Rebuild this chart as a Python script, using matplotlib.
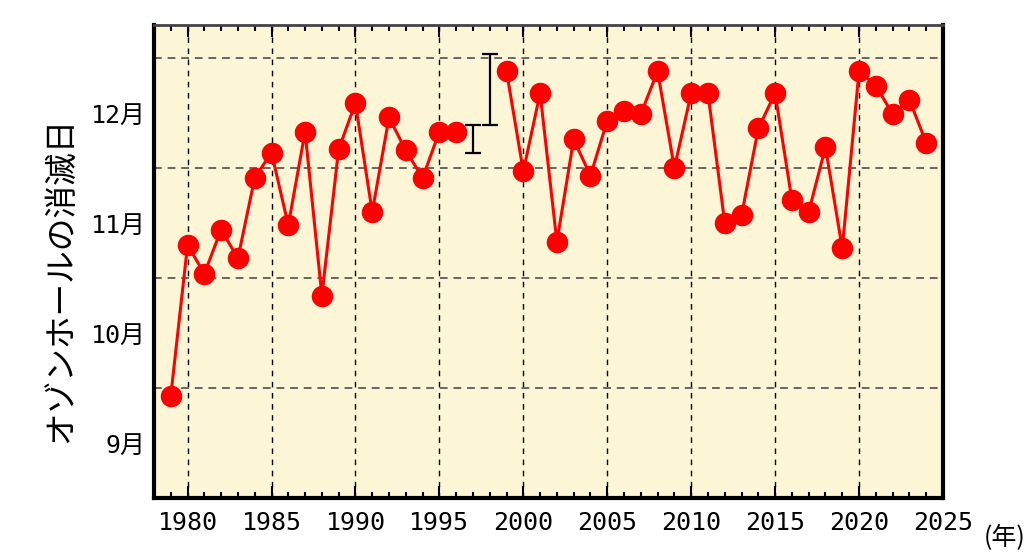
import numpy as np
import matplotlib
matplotlib.use("Agg")
import matplotlib.pyplot as plt

# day of disappearance, in month units (9.0 = 1 Sep, 10.0 = 1 Oct, ...)
years = np.arange(1979, 2025)
end_date = [
    9.93, 11.30, 11.04, 11.44, 11.18, 11.91, 12.14, 11.48, 12.33, 10.84,
    12.17, 12.59, 11.60, 12.46, 12.16, 11.91, 12.33, 12.33, np.nan, np.nan,
    12.88, 11.97, 12.68, 11.33, 12.26, 11.93, 12.43, 12.52, 12.49, 12.88,
    12.00, 12.68, 12.68, 11.50, 11.57, 12.36, 12.68, 11.71, 11.60, 12.19,
    11.27, 12.88, 12.75, 12.49, 12.62, 12.23,
]

# years without a firm date: range only
range_years = [1997, 1998]
range_low = [12.14, 12.39]
range_high = [12.39, 13.04]

month_pos = [9.5, 10.5, 11.5, 12.5]
month_labels = ["9月", "10月", "11月", "12月"]

FONT_NUM = ["DejaVu Sans Mono", "Noto Sans CJK JP"]
FONT_JP = ["Noto Sans CJK JP", "DejaVu Sans"]

fig = plt.figure(figsize=(10.28, 5.56), dpi=100)
ax = fig.add_axes([0.1498, 0.1043, 0.7675, 0.8507])
ax.set_facecolor("#fdf6d6")

ax.plot(years, end_date, "-o", color="#ff0000", lw=2.2, markersize=14.5, zorder=3)

lo = np.array(range_low)
hi = np.array(range_high)
ax.errorbar(range_years, (lo + hi) / 2, yerr=(hi - lo) / 2, fmt="none",
            ecolor="black", elinewidth=1.6, capsize=5.5, capthick=1.6, zorder=3)

ax.set_xlim(1978, 2025)
ax.set_ylim(9.0, 13.3)

ax.set_xticks(np.arange(1980, 2026, 5))
ax.set_xticks(np.arange(1978, 2026, 1), minor=True)
ax.tick_params(axis="x", which="both", direction="in", top=True, bottom=True, width=1.5)
ax.tick_params(axis="x", which="major", length=8.5, pad=9)
ax.tick_params(axis="x", which="minor", length=4.5)
for lab in ax.get_xticklabels():
    lab.set_family(FONT_NUM)
    lab.set_fontsize(18)

ax.set_yticks([10, 11, 12, 13])
ax.set_yticklabels([])
ax.set_yticks(month_pos, minor=True)
ax.set_yticklabels(month_labels, minor=True, family=FONT_NUM, fontsize=18)
ax.tick_params(axis="y", which="both", length=0, pad=6)

ax.grid(axis="x", which="major", color="black", linestyle=(0, (4, 4)), lw=1.0)
ax.grid(axis="y", which="major", color="#666666", linestyle=(0, (4, 3)), lw=1.4)
ax.set_axisbelow(True)

for side in ["left", "bottom", "right"]:
    ax.spines[side].set_linewidth(3)
    ax.spines[side].set_color("black")
ax.spines["top"].set_linewidth(2)
ax.spines["top"].set_color("#444444")

ax.set_ylabel("オゾンホールの消滅日", family=FONT_JP, fontsize=23.5)
ax.yaxis.set_label_coords(-0.097, 0.462)
fig.text(0.998, 0.032, "(年)", family=FONT_JP, fontsize=18, ha="right", va="center")

plt.savefig("out.png", dpi=100)
